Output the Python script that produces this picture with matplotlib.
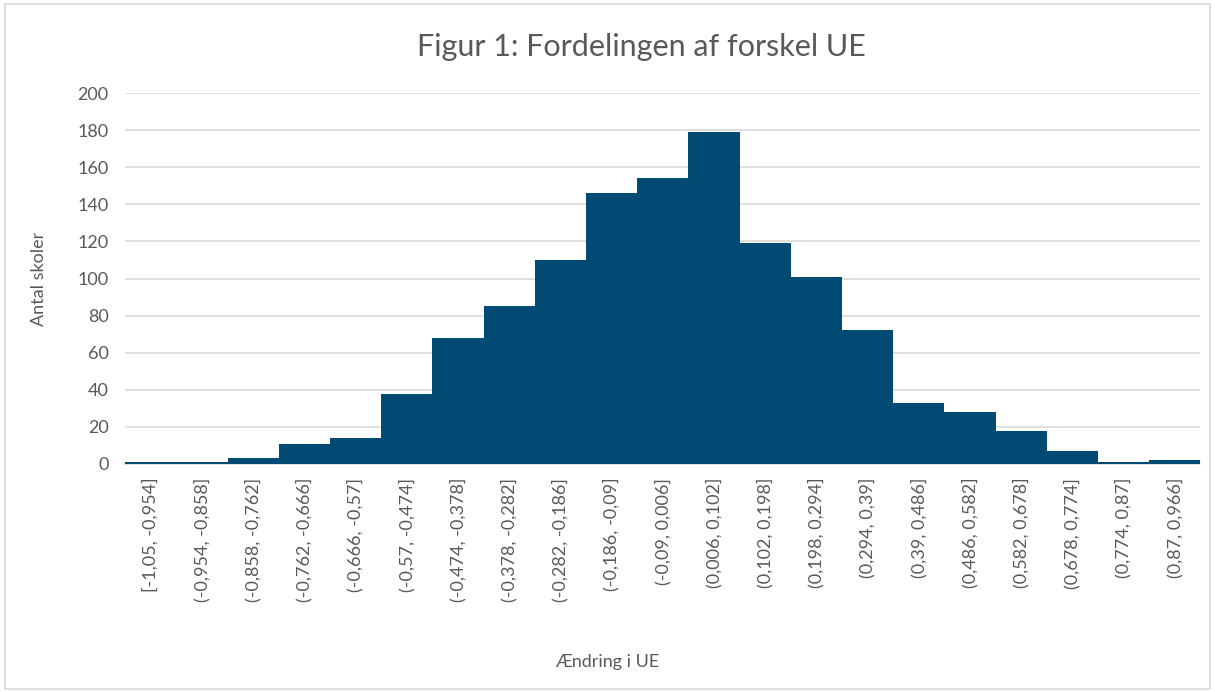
import numpy as np
import matplotlib.pyplot as plt

plt.rcParams['font.family'] = ['Lato', 'DejaVu Sans']

bins = ['[-1,05, -0,954]', '(-0,954, -0,858]', '(-0,858, -0,762]', '(-0,762, -0,666]',
        '(-0,666, -0,57]', '(-0,57, -0,474]', '(-0,474, -0,378]', '(-0,378, -0,282]',
        '(-0,282, -0,186]', '(-0,186, -0,09]', '(-0,09, 0,006]', '(0,006, 0,102]',
        '(0,102, 0,198]', '(0,198, 0,294]', '(0,294, 0,39]', '(0,39, 0,486]',
        '(0,486, 0,582]', '(0,582, 0,678]', '(0,678, 0,774]', '(0,774, 0,87]',
        '(0,87, 0,966]']
counts = [1, 1, 3, 11, 14, 38, 68, 85, 110, 146, 154, 179, 119, 101, 72, 33, 28, 18, 7, 1, 2]

fig = plt.figure(figsize=(12.15, 6.92), dpi=100)
ax = fig.add_axes([0.103, 0.3295, 0.885, 0.536])

x = np.arange(len(bins))
ax.bar(x, counts, width=1.0, color='#004A74', linewidth=0, zorder=3)

ax.set_xlim(-0.5, len(bins) - 0.5)
ax.set_ylim(0, 200)
ax.set_yticks(range(0, 201, 20))
ax.set_xticks(x)
ax.set_xticklabels(bins, rotation=90, fontsize=13, color='#595959')
ax.tick_params(axis='y', labelsize=13, colors='#595959', length=0, pad=12)
ax.tick_params(axis='x', length=0, pad=10)
ax.grid(axis='y', color='#D9D9D9', linewidth=1.2, zorder=0)

for s in ['top', 'right', 'left']:
    ax.spines[s].set_visible(False)
ax.spines['bottom'].set_color('#D9D9D9')
ax.spines['bottom'].set_linewidth(1.2)

ax.set_ylabel('Antal skoler', fontsize=13, color='#595959', labelpad=22)
fig.text(0.5, 0.043, 'Ændring i UE', ha='center', va='center', fontsize=13, color='#595959')
fig.text(0.528, 0.932, 'Figur 1: Fordelingen af forskel UE', ha='center', va='center',
         fontsize=22, color='#595959')

# light border round the chart
fig.patches.append(plt.Rectangle((0.004, 0.004), 0.992, 0.99, transform=fig.transFigure,
                                 fill=False, edgecolor='#D9D9D9', linewidth=1.2))

fig.savefig('out.png', dpi=100)
